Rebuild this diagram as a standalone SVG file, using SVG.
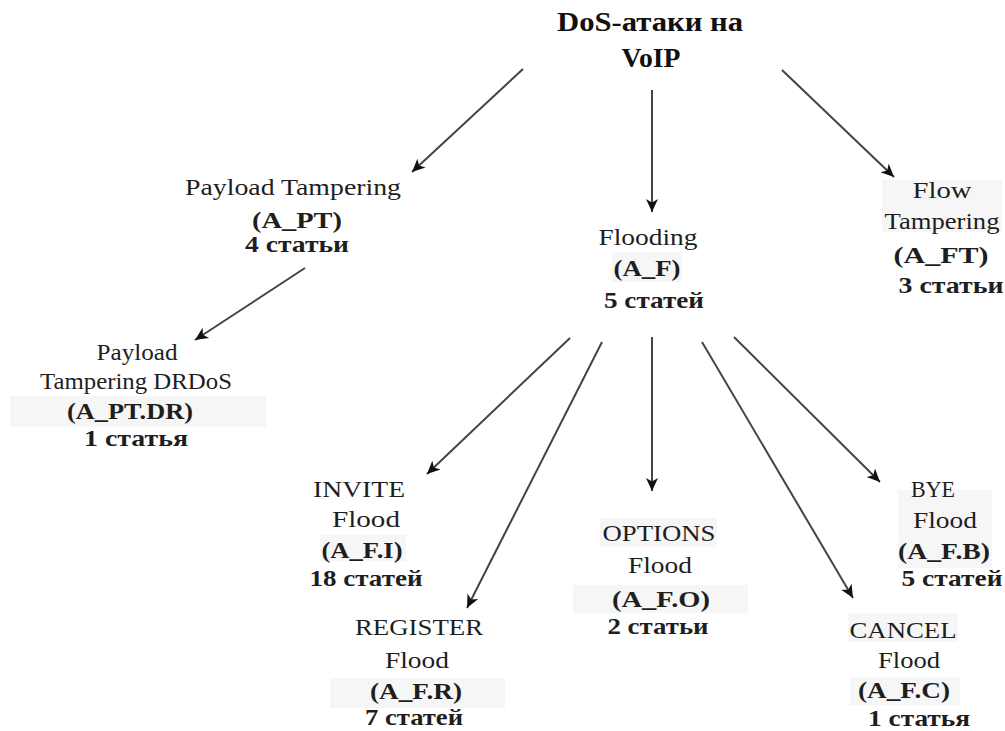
<svg xmlns="http://www.w3.org/2000/svg" width="1005" height="731" viewBox="0 0 1005 731">
<defs>
<style>
text{font-family:'Liberation Serif','Times New Roman',serif;fill:#1e1e1e;text-anchor:middle}
.r{font-size:24px}
.b{font-size:24px;font-weight:bold}
.t{font-size:27px;font-weight:bold;fill:#111}
.bg{fill:#f6f6f6}
.c{stroke:#444;stroke-width:2;fill:none;marker-end:url(#ah)}
</style>
<marker id="ah" markerUnits="userSpaceOnUse" markerWidth="14" markerHeight="14" refX="13" refY="7" orient="auto">
<path d="M0,1 L13,7 L0,13 L3.5,7 z" fill="#111"/>
</marker>
</defs>
<rect width="1005" height="731" fill="#fff"/>
<g id="connectors">
<line class="c" x1="523" y1="69" x2="412" y2="172"/>
<line class="c" x1="652" y1="90" x2="652" y2="212"/>
<line class="c" x1="782" y1="70" x2="894" y2="177"/>
<line class="c" x1="305" y1="268" x2="195" y2="340"/>
<line class="c" x1="570" y1="338" x2="427" y2="474"/>
<line class="c" x1="602" y1="342" x2="467" y2="608"/>
<line class="c" x1="652" y1="337" x2="652" y2="491"/>
<line class="c" x1="702" y1="342" x2="853" y2="598"/>
<line class="c" x1="734" y1="337" x2="880" y2="482"/>
</g>
<g id="root">
<text class="t" x="650" y="31" textLength="186" lengthAdjust="spacingAndGlyphs">DoS-атаки на</text>
<text class="t" x="651" y="67" textLength="59" lengthAdjust="spacingAndGlyphs">VoIP</text>
</g>
<g id="pt">
<text class="r" x="293" y="195" textLength="216" lengthAdjust="spacingAndGlyphs">Payload Tampering</text>
<text class="b" x="297" y="228" textLength="90" lengthAdjust="spacingAndGlyphs">(A_PT)</text>
<text class="b" x="297" y="252" textLength="104" lengthAdjust="spacingAndGlyphs">4 статьи</text>
</g>
<g id="ptdr">
<rect class="bg" x="10" y="396" width="256" height="31"/>
<text class="r" x="137" y="360" textLength="81" lengthAdjust="spacingAndGlyphs">Payload</text>
<text class="r" x="136" y="389" textLength="192" lengthAdjust="spacingAndGlyphs">Tampering DRDoS</text>
<text class="b" x="130" y="419" textLength="126" lengthAdjust="spacingAndGlyphs">(A_PT.DR)</text>
<text class="b" x="136" y="446" textLength="104" lengthAdjust="spacingAndGlyphs">1 статья</text>
</g>
<g id="f">
<rect class="bg" x="612" y="252" width="70" height="30"/>
<text class="r" x="648" y="245" textLength="99" lengthAdjust="spacingAndGlyphs">Flooding</text>
<text class="b" x="647" y="276" textLength="67" lengthAdjust="spacingAndGlyphs">(A_F)</text>
<text class="b" x="654" y="308" textLength="100" lengthAdjust="spacingAndGlyphs">5 статей</text>
</g>
<g id="ft">
<rect class="bg" x="882" y="180" width="120" height="52"/>
<text class="r" x="942" y="198" textLength="59" lengthAdjust="spacingAndGlyphs">Flow</text>
<text class="r" x="942" y="229" textLength="115" lengthAdjust="spacingAndGlyphs">Tampering</text>
<text class="b" x="941" y="263" textLength="95" lengthAdjust="spacingAndGlyphs">(A_FT)</text>
<text class="b" x="951" y="293" textLength="105" lengthAdjust="spacingAndGlyphs">3 статьи</text>
</g>
<g id="fi">
<rect class="bg" x="320" y="535" width="86" height="26"/>
<text class="r" x="359" y="497" textLength="92" lengthAdjust="spacingAndGlyphs">INVITE</text>
<text class="r" x="366" y="527" textLength="68" lengthAdjust="spacingAndGlyphs">Flood</text>
<text class="b" x="362" y="558" textLength="81" lengthAdjust="spacingAndGlyphs">(A_F.I)</text>
<text class="b" x="366" y="586" textLength="113" lengthAdjust="spacingAndGlyphs">18 статей</text>
</g>
<g id="fr">
<rect class="bg" x="330" y="678" width="175" height="30"/>
<text class="r" x="419" y="635" textLength="128" lengthAdjust="spacingAndGlyphs">REGISTER</text>
<text class="r" x="417" y="668" textLength="64" lengthAdjust="spacingAndGlyphs">Flood</text>
<text class="b" x="416" y="699" textLength="92" lengthAdjust="spacingAndGlyphs">(A_F.R)</text>
<text class="b" x="414" y="725" textLength="98" lengthAdjust="spacingAndGlyphs">7 статей</text>
</g>
<g id="fo">
<rect class="bg" x="600" y="518" width="117" height="29"/>
<rect class="bg" x="573" y="585" width="175" height="28"/>
<text class="r" x="659" y="541" textLength="113" lengthAdjust="spacingAndGlyphs">OPTIONS</text>
<text class="r" x="660" y="573" textLength="64" lengthAdjust="spacingAndGlyphs">Flood</text>
<text class="b" x="661" y="607" textLength="98" lengthAdjust="spacingAndGlyphs">(A_F.O)</text>
<text class="b" x="658" y="634" textLength="101" lengthAdjust="spacingAndGlyphs">2 статьи</text>
</g>
<g id="fb">
<rect class="bg" x="898" y="490" width="94" height="78"/>
<text class="r" x="933" y="497" textLength="44" lengthAdjust="spacingAndGlyphs">BYE</text>
<text class="r" x="945" y="528" textLength="64" lengthAdjust="spacingAndGlyphs">Flood</text>
<text class="b" x="944" y="559" textLength="92" lengthAdjust="spacingAndGlyphs">(A_F.B)</text>
<text class="b" x="952" y="586" textLength="101" lengthAdjust="spacingAndGlyphs">5 статей</text>
</g>
<g id="fc">
<rect class="bg" x="848" y="613" width="110" height="29"/>
<rect class="bg" x="850" y="677" width="110" height="28"/>
<text class="r" x="903" y="638" textLength="107" lengthAdjust="spacingAndGlyphs">CANCEL</text>
<text class="r" x="909" y="668" textLength="62" lengthAdjust="spacingAndGlyphs">Flood</text>
<text class="b" x="904" y="698" textLength="92" lengthAdjust="spacingAndGlyphs">(A_F.C)</text>
<text class="b" x="919" y="726" textLength="102" lengthAdjust="spacingAndGlyphs">1 статья</text>
</g>
</svg>
